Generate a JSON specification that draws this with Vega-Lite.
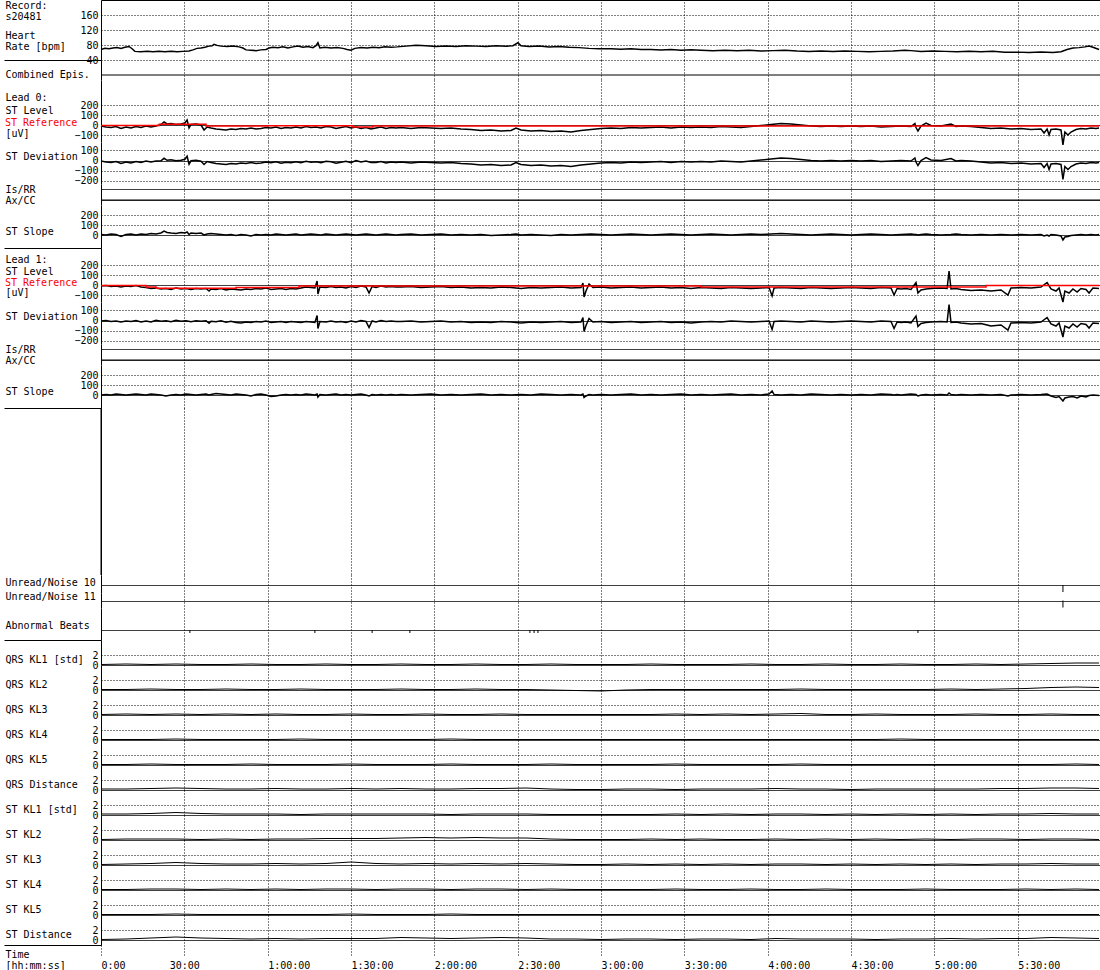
{
"$schema": "https://vega.github.io/schema/vega-lite/v6.json",
"autosize": {"type": "pad"},
"padding": {"left": 3, "top": 0, "right": 0, "bottom": 0},
"spacing": 0,
"bounds": "flush",
"config": {
  "view": {"stroke": null},
  "font": "DejaVu Sans Mono",
  "axis": {"labelFont": "DejaVu Sans Mono", "labelFontSize": 10, "labelColor": "black", "titleFont": "DejaVu Sans Mono", "titleFontSize": 10, "titleFontWeight": "normal", "titleColor": "black", "domainColor": "black", "gridColor": "black", "gridOpacity": 1, "tickColor": "black", "labelOverlap": false, "labelFlush": false, "labelBound": false, "titlePadding": 0},
  "axisY": {"titleAngle": 0, "titleAlign": "left", "titleBaseline": "top", "titleX": -96}
},
"datasets": {
  "hr": [
    {"t":0,"v":68},{"t":1.4,"v":71},{"t":2.9,"v":70},{"t":4.3,"v":72},{"t":5.8,"v":73},{"t":7.2,"v":71},{"t":8.6,"v":74},{"t":10.1,"v":76},{"t":11.2,"v":70},{"t":12.2,"v":63},{"t":14.4,"v":62},{"t":16.6,"v":63},{"t":18.7,"v":62},{"t":20.9,"v":63},{"t":23,"v":62},{"t":25.2,"v":63},{"t":27.4,"v":62},{"t":29.5,"v":63},{"t":31.7,"v":64},{"t":33.1,"v":67},{"t":34.6,"v":71},{"t":36,"v":72},{"t":37.4,"v":74},{"t":38.9,"v":77},{"t":40,"v":78},{"t":40.7,"v":82},{"t":41.8,"v":79},{"t":43.2,"v":77},{"t":45.4,"v":76},{"t":47.5,"v":77},{"t":49.7,"v":75},{"t":51.1,"v":72},{"t":52.2,"v":67},{"t":54,"v":66},{"t":55.8,"v":65},{"t":57.6,"v":67},{"t":59.4,"v":68},{"t":60.5,"v":72},{"t":61.9,"v":74},{"t":63.7,"v":73},{"t":65.5,"v":75},{"t":67.3,"v":72},{"t":69.1,"v":75},{"t":70.9,"v":77},{"t":72.7,"v":74},{"t":74.5,"v":76},{"t":76.3,"v":73},{"t":77.4,"v":78},{"t":78.1,"v":86},{"t":78.8,"v":72},{"t":80.6,"v":74},{"t":82.8,"v":72},{"t":85,"v":73},{"t":87.1,"v":71},{"t":88.6,"v":68},{"t":90,"v":66},{"t":91.4,"v":71},{"t":93.6,"v":73},{"t":95.8,"v":72},{"t":97.9,"v":74},{"t":100.1,"v":73},{"t":102.2,"v":75},{"t":104.4,"v":74},{"t":106.6,"v":75},{"t":109.8,"v":77},{"t":113.4,"v":79},{"t":117,"v":78},{"t":120.6,"v":76},{"t":124.2,"v":77},{"t":127.8,"v":76},{"t":131.4,"v":78},{"t":135,"v":77},{"t":138.6,"v":76},{"t":142.2,"v":78},{"t":145.8,"v":77},{"t":148.3,"v":78},{"t":150.1,"v":86},{"t":151.2,"v":78},{"t":154.1,"v":76},{"t":157.7,"v":77},{"t":161.3,"v":75},{"t":164.9,"v":76},{"t":168.5,"v":74},{"t":172.1,"v":73},{"t":175.7,"v":71},{"t":179.3,"v":70},{"t":183.6,"v":70},{"t":187.2,"v":69},{"t":190.8,"v":70},{"t":194.4,"v":68},{"t":198,"v":68},{"t":201.6,"v":67},{"t":205.2,"v":68},{"t":208.8,"v":66},{"t":212.4,"v":67},{"t":216,"v":66},{"t":220.3,"v":65},{"t":224.6,"v":66},{"t":229,"v":65},{"t":233.3,"v":66},{"t":237.6,"v":64},{"t":241.9,"v":65},{"t":246.2,"v":66},{"t":250.6,"v":64},{"t":254.9,"v":63},{"t":259.2,"v":64},{"t":263.5,"v":63},{"t":267.8,"v":64},{"t":272.2,"v":63},{"t":276.5,"v":62},{"t":280.8,"v":63},{"t":285.1,"v":64},{"t":289.4,"v":66},{"t":291.6,"v":65},{"t":295.2,"v":63},{"t":299.5,"v":64},{"t":303.8,"v":63},{"t":308.2,"v":62},{"t":312.5,"v":63},{"t":316.8,"v":62},{"t":321.1,"v":63},{"t":325.4,"v":61},{"t":329.8,"v":61},{"t":334.1,"v":60},{"t":338.4,"v":61},{"t":342.7,"v":60},{"t":345.6,"v":62},{"t":347.8,"v":68},{"t":349.9,"v":72},{"t":352.1,"v":73},{"t":354.2,"v":75},{"t":355.7,"v":77},{"t":357.1,"v":74},{"t":359.3,"v":68}
  ],
  "l0": [
    {"t":0,"lvl":-10,"dev":-5,"slp":5},{"t":1.8,"lvl":-20,"dev":-15,"slp":0},{"t":3.6,"lvl":-25,"dev":-20,"slp":10},{"t":5.4,"lvl":-15,"dev":-10,"slp":5},{"t":7.2,"lvl":-35,"dev":-30,"slp":-15},{"t":9,"lvl":-20,"dev":-15,"slp":5},{"t":10.8,"lvl":-30,"dev":-25,"slp":10},{"t":12.6,"lvl":-15,"dev":-10,"slp":0},{"t":14.4,"lvl":-25,"dev":-20,"slp":10},{"t":16.2,"lvl":-10,"dev":-5,"slp":5},{"t":18,"lvl":-20,"dev":-15,"slp":15},{"t":19.8,"lvl":-10,"dev":-5,"slp":10},{"t":21.6,"lvl":5,"dev":-3,"slp":20},{"t":22.7,"lvl":30,"dev":22,"slp":40},{"t":23.8,"lvl":10,"dev":2,"slp":25},{"t":25.2,"lvl":15,"dev":7,"slp":20},{"t":27,"lvl":5,"dev":-3,"slp":15},{"t":28.8,"lvl":10,"dev":2,"slp":25},{"t":30.2,"lvl":20,"dev":12,"slp":20},{"t":31,"lvl":50,"dev":42,"slp":30},{"t":31.7,"lvl":-30,"dev":-38,"slp":5},{"t":32.4,"lvl":5,"dev":-3,"slp":20},{"t":34.2,"lvl":10,"dev":2,"slp":15},{"t":36,"lvl":0,"dev":-8,"slp":20},{"t":37.1,"lvl":-50,"dev":-40,"slp":0},{"t":38.2,"lvl":-20,"dev":-10,"slp":10},{"t":39.6,"lvl":-30,"dev":-20,"slp":15},{"t":41.4,"lvl":-40,"dev":-30,"slp":10},{"t":43.2,"lvl":-45,"dev":-35,"slp":5},{"t":45,"lvl":-50,"dev":-40,"slp":0},{"t":46.8,"lvl":-40,"dev":-30,"slp":5},{"t":48.6,"lvl":-45,"dev":-35,"slp":-5},{"t":50.4,"lvl":-35,"dev":-25,"slp":5},{"t":52.2,"lvl":-40,"dev":-30,"slp":0},{"t":54,"lvl":-30,"dev":-20,"slp":-10},{"t":55.8,"lvl":-40,"dev":-30,"slp":5},{"t":57.6,"lvl":-35,"dev":-25,"slp":0},{"t":59.4,"lvl":-25,"dev":-15,"slp":5},{"t":61.2,"lvl":-30,"dev":-22,"slp":0},{"t":63,"lvl":-20,"dev":-12,"slp":10},{"t":64.8,"lvl":-35,"dev":-27,"slp":5},{"t":66.6,"lvl":-25,"dev":-17,"slp":0},{"t":68.4,"lvl":-30,"dev":-22,"slp":5},{"t":70.2,"lvl":-20,"dev":-12,"slp":10},{"t":72,"lvl":-30,"dev":-22,"slp":0},{"t":73.8,"lvl":-15,"dev":-7,"slp":5},{"t":75.6,"lvl":-25,"dev":-17,"slp":10},{"t":77.4,"lvl":-20,"dev":-12,"slp":5},{"t":79.2,"lvl":-30,"dev":-22,"slp":0},{"t":81,"lvl":-15,"dev":-7,"slp":10},{"t":82.8,"lvl":-20,"dev":-12,"slp":5},{"t":84.6,"lvl":-35,"dev":-27,"slp":0},{"t":86.4,"lvl":-25,"dev":-17,"slp":5},{"t":88.2,"lvl":-15,"dev":-7,"slp":10},{"t":90,"lvl":-30,"dev":-22,"slp":5},{"t":91.8,"lvl":-20,"dev":0,"slp":0},{"t":93.6,"lvl":-35,"dev":-15,"slp":5},{"t":95.4,"lvl":-25,"dev":-5,"slp":10},{"t":97.2,"lvl":-40,"dev":-20,"slp":5},{"t":99,"lvl":-30,"dev":-20,"slp":0},{"t":100.8,"lvl":-20,"dev":-10,"slp":5},{"t":102.6,"lvl":-35,"dev":-25,"slp":10},{"t":104.4,"lvl":-25,"dev":-15,"slp":5},{"t":106.2,"lvl":-30,"dev":-20,"slp":0},{"t":108,"lvl":-25,"dev":-15,"slp":5},{"t":111.6,"lvl":-35,"dev":-25,"slp":10},{"t":115.2,"lvl":-25,"dev":-15,"slp":0},{"t":118.8,"lvl":-30,"dev":-20,"slp":5},{"t":122.4,"lvl":-35,"dev":-25,"slp":10},{"t":126,"lvl":-30,"dev":-20,"slp":0},{"t":129.6,"lvl":-40,"dev":-30,"slp":5},{"t":133.2,"lvl":-45,"dev":-35,"slp":0},{"t":136.8,"lvl":-55,"dev":-45,"slp":5},{"t":140.4,"lvl":-50,"dev":-40,"slp":-5},{"t":144,"lvl":-60,"dev":-50,"slp":0},{"t":147.6,"lvl":-55,"dev":-45,"slp":5},{"t":149.4,"lvl":-30,"dev":-20,"slp":10},{"t":151.2,"lvl":-50,"dev":-40,"slp":0},{"t":154.8,"lvl":-60,"dev":-50,"slp":5},{"t":158.4,"lvl":-55,"dev":-45,"slp":0},{"t":162,"lvl":-65,"dev":-55,"slp":-5},{"t":165.6,"lvl":-60,"dev":-50,"slp":5},{"t":169.2,"lvl":-70,"dev":-60,"slp":0},{"t":172.8,"lvl":-55,"dev":-45,"slp":5},{"t":176.4,"lvl":-45,"dev":-35,"slp":10},{"t":180,"lvl":-35,"dev":-25,"slp":5},{"t":183.6,"lvl":-30,"dev":-20,"slp":0},{"t":187.2,"lvl":-35,"dev":-25,"slp":5},{"t":190.8,"lvl":-25,"dev":-15,"slp":10},{"t":194.4,"lvl":-30,"dev":-20,"slp":5},{"t":198,"lvl":-25,"dev":-15,"slp":0},{"t":201.6,"lvl":-20,"dev":-10,"slp":5},{"t":205.2,"lvl":-30,"dev":-20,"slp":10},{"t":208.8,"lvl":-20,"dev":-10,"slp":5},{"t":212.4,"lvl":-25,"dev":-15,"slp":0},{"t":216,"lvl":-20,"dev":-10,"slp":5},{"t":219.6,"lvl":-25,"dev":-15,"slp":10},{"t":223.2,"lvl":-15,"dev":-5,"slp":5},{"t":226.8,"lvl":-20,"dev":-10,"slp":0},{"t":230.4,"lvl":-25,"dev":-15,"slp":5},{"t":234,"lvl":-15,"dev":-5,"slp":10},{"t":237.6,"lvl":-5,"dev":5,"slp":5},{"t":241.2,"lvl":5,"dev":15,"slp":10},{"t":244.8,"lvl":15,"dev":25,"slp":15},{"t":248.4,"lvl":10,"dev":20,"slp":10},{"t":252,"lvl":0,"dev":10,"slp":5},{"t":255.6,"lvl":-10,"dev":0,"slp":0},{"t":259.2,"lvl":-15,"dev":-5,"slp":5},{"t":262.8,"lvl":-10,"dev":0,"slp":10},{"t":266.4,"lvl":-15,"dev":-5,"slp":5},{"t":270,"lvl":-10,"dev":0,"slp":0},{"t":273.6,"lvl":-15,"dev":-5,"slp":5},{"t":277.2,"lvl":-10,"dev":0,"slp":10},{"t":280.8,"lvl":-20,"dev":-10,"slp":5},{"t":284.4,"lvl":-15,"dev":-5,"slp":0},{"t":288,"lvl":-10,"dev":0,"slp":5},{"t":291.6,"lvl":-15,"dev":-5,"slp":10},{"t":293,"lvl":15,"dev":25,"slp":5},{"t":293.4,"lvl":-25,"dev":-15,"slp":5},{"t":294.1,"lvl":-60,"dev":-50,"slp":0},{"t":295.2,"lvl":-10,"dev":0,"slp":5},{"t":297,"lvl":20,"dev":30,"slp":10},{"t":298.8,"lvl":-5,"dev":5,"slp":5},{"t":302.4,"lvl":-10,"dev":0,"slp":0},{"t":306,"lvl":10,"dev":20,"slp":5},{"t":307.8,"lvl":-15,"dev":-5,"slp":10},{"t":309.6,"lvl":-10,"dev":0,"slp":5},{"t":313.2,"lvl":-15,"dev":-5,"slp":0},{"t":316.8,"lvl":-25,"dev":-15,"slp":5},{"t":320.4,"lvl":-35,"dev":-25,"slp":0},{"t":324,"lvl":-30,"dev":-20,"slp":5},{"t":327.6,"lvl":-40,"dev":-30,"slp":0},{"t":331.2,"lvl":-35,"dev":-25,"slp":5},{"t":334.8,"lvl":-45,"dev":-35,"slp":0},{"t":338.4,"lvl":-40,"dev":-30,"slp":5},{"t":339.5,"lvl":-80,"dev":-70,"slp":-10},{"t":340.6,"lvl":-40,"dev":-30,"slp":0},{"t":341.3,"lvl":-100,"dev":-90,"slp":-10},{"t":342,"lvl":-45,"dev":-35,"slp":5},{"t":343.8,"lvl":-40,"dev":-30,"slp":0},{"t":345.6,"lvl":-50,"dev":-40,"slp":-10},{"t":346.3,"lvl":-200,"dev":-190,"slp":-50},{"t":347,"lvl":-70,"dev":-60,"slp":-20},{"t":348.1,"lvl":-100,"dev":-90,"slp":-15},{"t":349.2,"lvl":-70,"dev":-60,"slp":-5},{"t":351,"lvl":-45,"dev":-35,"slp":0},{"t":352.8,"lvl":-35,"dev":-25,"slp":5},{"t":354.6,"lvl":-40,"dev":-30,"slp":0},{"t":356.4,"lvl":-30,"dev":-20,"slp":5},{"t":358.2,"lvl":-35,"dev":-25,"slp":0},{"t":359.3,"lvl":-30,"dev":-20,"slp":5}
  ],
  "l0ref": [
    {"t":0,"lvl":-5},{"t":21,"lvl":8},{"t":37.8,"lvl":-10},{"t":60.1,"lvl":-8},{"t":90.7,"lvl":-20},{"t":97.9,"lvl":-10},{"t":359.3,"lvl":-10}
  ],
  "l1": [
    {"t":0,"lvl":-10,"dev":-5,"slp":0},{"t":1.8,"lvl":-5,"dev":0,"slp":5},{"t":3.6,"lvl":-15,"dev":-10,"slp":0},{"t":5.4,"lvl":-10,"dev":-5,"slp":10},{"t":7.2,"lvl":-20,"dev":-15,"slp":5},{"t":9,"lvl":-10,"dev":-5,"slp":0},{"t":10.8,"lvl":-15,"dev":-10,"slp":5},{"t":12.6,"lvl":-5,"dev":0,"slp":10},{"t":14.4,"lvl":-20,"dev":-15,"slp":5},{"t":16.2,"lvl":-25,"dev":-5,"slp":0},{"t":18,"lvl":-35,"dev":-15,"slp":10},{"t":19.8,"lvl":-30,"dev":3,"slp":5},{"t":21.6,"lvl":-40,"dev":-7,"slp":0},{"t":23.4,"lvl":-35,"dev":-2,"slp":-10},{"t":25.2,"lvl":-45,"dev":-12,"slp":0},{"t":27,"lvl":-30,"dev":3,"slp":5},{"t":28.8,"lvl":-40,"dev":-7,"slp":0},{"t":30.6,"lvl":-35,"dev":-2,"slp":10},{"t":32.4,"lvl":-45,"dev":-12,"slp":5},{"t":34.2,"lvl":-35,"dev":-2,"slp":0},{"t":36,"lvl":-40,"dev":-7,"slp":5},{"t":37.8,"lvl":-35,"dev":-2,"slp":10},{"t":38.9,"lvl":-60,"dev":-27,"slp":0},{"t":39.6,"lvl":-40,"dev":-7,"slp":5},{"t":41.4,"lvl":-45,"dev":-12,"slp":15},{"t":43.2,"lvl":-35,"dev":-2,"slp":10},{"t":45,"lvl":-50,"dev":-17,"slp":5},{"t":46.8,"lvl":-40,"dev":-7,"slp":0},{"t":48.6,"lvl":-45,"dev":-20,"slp":10},{"t":50.4,"lvl":-50,"dev":-25,"slp":5},{"t":52.2,"lvl":-40,"dev":-15,"slp":0},{"t":54,"lvl":-45,"dev":-20,"slp":-10},{"t":55.8,"lvl":-35,"dev":-10,"slp":5},{"t":57.6,"lvl":-40,"dev":-15,"slp":10},{"t":59.4,"lvl":-30,"dev":-5,"slp":0},{"t":61.2,"lvl":-45,"dev":-20,"slp":-15},{"t":63,"lvl":-40,"dev":-15,"slp":-10},{"t":64.8,"lvl":-35,"dev":-10,"slp":0},{"t":66.6,"lvl":-45,"dev":-20,"slp":5},{"t":68.4,"lvl":-35,"dev":-10,"slp":0},{"t":70.2,"lvl":-40,"dev":-15,"slp":5},{"t":72,"lvl":-30,"dev":-20,"slp":0},{"t":73.8,"lvl":-20,"dev":-10,"slp":10},{"t":75.6,"lvl":-25,"dev":-15,"slp":5},{"t":77,"lvl":-30,"dev":-20,"slp":0},{"t":77.8,"lvl":40,"dev":50,"slp":10},{"t":78.1,"lvl":-90,"dev":-80,"slp":-20},{"t":78.8,"lvl":-20,"dev":-10,"slp":5},{"t":81,"lvl":-25,"dev":-15,"slp":0},{"t":82.8,"lvl":-15,"dev":-5,"slp":5},{"t":84.6,"lvl":-25,"dev":-15,"slp":10},{"t":86.4,"lvl":-20,"dev":-10,"slp":0},{"t":88.2,"lvl":-30,"dev":-20,"slp":5},{"t":90,"lvl":-15,"dev":-5,"slp":0},{"t":91.8,"lvl":-25,"dev":-15,"slp":5},{"t":93.6,"lvl":-10,"dev":0,"slp":10},{"t":95.4,"lvl":-20,"dev":-10,"slp":0},{"t":96.5,"lvl":-80,"dev":-70,"slp":-10},{"t":97.6,"lvl":-15,"dev":-5,"slp":5},{"t":99,"lvl":-25,"dev":-15,"slp":0},{"t":100.8,"lvl":-10,"dev":0,"slp":5},{"t":102.6,"lvl":-20,"dev":-10,"slp":0},{"t":104.4,"lvl":-15,"dev":-5,"slp":5},{"t":106.2,"lvl":-20,"dev":-10,"slp":0},{"t":108,"lvl":-20,"dev":-10,"slp":5},{"t":111.6,"lvl":-15,"dev":-5,"slp":0},{"t":115.2,"lvl":-25,"dev":-15,"slp":5},{"t":118.8,"lvl":-20,"dev":-10,"slp":10},{"t":122.4,"lvl":-15,"dev":-5,"slp":0},{"t":126,"lvl":-25,"dev":-15,"slp":5},{"t":129.6,"lvl":-20,"dev":-10,"slp":0},{"t":133.2,"lvl":-30,"dev":-20,"slp":5},{"t":136.8,"lvl":-25,"dev":-15,"slp":10},{"t":140.4,"lvl":-30,"dev":-20,"slp":0},{"t":144,"lvl":-20,"dev":-10,"slp":5},{"t":147.6,"lvl":-25,"dev":-15,"slp":0},{"t":151.2,"lvl":-35,"dev":-25,"slp":5},{"t":154.8,"lvl":-25,"dev":-15,"slp":0},{"t":158.4,"lvl":-30,"dev":-20,"slp":10},{"t":162,"lvl":-25,"dev":-15,"slp":5},{"t":165.6,"lvl":-20,"dev":-10,"slp":0},{"t":169.2,"lvl":-30,"dev":-20,"slp":5},{"t":172.8,"lvl":-25,"dev":-15,"slp":0},{"t":173.5,"lvl":20,"dev":30,"slp":10},{"t":173.9,"lvl":-120,"dev":-110,"slp":-25},{"t":174.6,"lvl":-60,"dev":-50,"slp":-10},{"t":175.7,"lvl":10,"dev":20,"slp":5},{"t":177.1,"lvl":-25,"dev":-15,"slp":0},{"t":180,"lvl":-20,"dev":-10,"slp":5},{"t":183.6,"lvl":-30,"dev":-20,"slp":0},{"t":187.2,"lvl":-25,"dev":-15,"slp":5},{"t":190.8,"lvl":-20,"dev":-10,"slp":10},{"t":194.4,"lvl":-30,"dev":-20,"slp":0},{"t":198,"lvl":-25,"dev":-15,"slp":5},{"t":201.6,"lvl":-20,"dev":-10,"slp":0},{"t":205.2,"lvl":-30,"dev":-20,"slp":5},{"t":208.8,"lvl":-25,"dev":-15,"slp":10},{"t":212.4,"lvl":-35,"dev":-25,"slp":0},{"t":216,"lvl":-25,"dev":-15,"slp":5},{"t":219.6,"lvl":-30,"dev":-10,"slp":0},{"t":223.2,"lvl":-35,"dev":-15,"slp":5},{"t":226.8,"lvl":-25,"dev":-5,"slp":10},{"t":230.4,"lvl":-30,"dev":-10,"slp":0},{"t":234,"lvl":-35,"dev":-15,"slp":5},{"t":237.6,"lvl":-30,"dev":-10,"slp":0},{"t":240.5,"lvl":-25,"dev":-5,"slp":10},{"t":241.6,"lvl":-110,"dev":-90,"slp":40},{"t":242.3,"lvl":-30,"dev":-10,"slp":5},{"t":244.8,"lvl":-25,"dev":-5,"slp":0},{"t":248.4,"lvl":-30,"dev":-10,"slp":5},{"t":252,"lvl":-35,"dev":-15,"slp":0},{"t":255.6,"lvl":-25,"dev":-5,"slp":10},{"t":259.2,"lvl":-30,"dev":-10,"slp":5},{"t":262.8,"lvl":-35,"dev":-15,"slp":0},{"t":266.4,"lvl":-30,"dev":-10,"slp":5},{"t":270,"lvl":-25,"dev":-5,"slp":0},{"t":273.6,"lvl":-30,"dev":-10,"slp":5},{"t":277.2,"lvl":-35,"dev":-15,"slp":0},{"t":280.8,"lvl":-25,"dev":-5,"slp":10},{"t":284.4,"lvl":-30,"dev":-10,"slp":5},{"t":285.5,"lvl":-100,"dev":-80,"slp":0},{"t":286.6,"lvl":-35,"dev":-15,"slp":5},{"t":288,"lvl":-40,"dev":-20,"slp":0},{"t":289.8,"lvl":-35,"dev":-15,"slp":5},{"t":291.6,"lvl":-45,"dev":-25,"slp":10},{"t":293.4,"lvl":25,"dev":45,"slp":5},{"t":294.1,"lvl":-80,"dev":-60,"slp":-10},{"t":295.2,"lvl":-50,"dev":-30,"slp":0},{"t":297,"lvl":-40,"dev":-20,"slp":5},{"t":298.8,"lvl":-35,"dev":-15,"slp":0},{"t":302.4,"lvl":-30,"dev":-10,"slp":5},{"t":304.6,"lvl":-35,"dev":-15,"slp":0},{"t":305.3,"lvl":140,"dev":160,"slp":20},{"t":306,"lvl":-40,"dev":-20,"slp":5},{"t":307.8,"lvl":-35,"dev":-15,"slp":0},{"t":309.6,"lvl":-45,"dev":-25,"slp":5},{"t":313.2,"lvl":-55,"dev":-35,"slp":0},{"t":316.8,"lvl":-50,"dev":-30,"slp":5},{"t":320.4,"lvl":-60,"dev":-55,"slp":0},{"t":324,"lvl":-50,"dev":-45,"slp":5},{"t":326.5,"lvl":-100,"dev":-95,"slp":-10},{"t":327.6,"lvl":-30,"dev":-25,"slp":0},{"t":331.2,"lvl":-25,"dev":-20,"slp":5},{"t":334.8,"lvl":-30,"dev":-25,"slp":0},{"t":338.4,"lvl":-20,"dev":-15,"slp":5},{"t":340.6,"lvl":25,"dev":30,"slp":10},{"t":342,"lvl":-40,"dev":-35,"slp":-10},{"t":343.8,"lvl":-60,"dev":-55,"slp":-25},{"t":344.9,"lvl":-30,"dev":-25,"slp":-15},{"t":346.3,"lvl":-170,"dev":-165,"slp":-60},{"t":347,"lvl":-60,"dev":-55,"slp":-30},{"t":348.5,"lvl":-80,"dev":-75,"slp":-20},{"t":349.9,"lvl":-40,"dev":-35,"slp":-15},{"t":351.4,"lvl":-70,"dev":-65,"slp":-30},{"t":352.8,"lvl":-35,"dev":-30,"slp":-10},{"t":354.6,"lvl":-45,"dev":-40,"slp":-20},{"t":355.7,"lvl":-80,"dev":-75,"slp":-5},{"t":357.1,"lvl":-30,"dev":-25,"slp":0},{"t":359.3,"lvl":-35,"dev":-30,"slp":-5}
  ],
  "l1ref": [
    {"t":0,"lvl":-5},{"t":16.2,"lvl":-20},{"t":19.8,"lvl":-33},{"t":48.6,"lvl":-25},{"t":71.3,"lvl":-10},{"t":216,"lvl":-20},{"t":318.6,"lvl":-5},{"t":359.3,"lvl":-5}
  ],
  "noise10": [{"t":346.3}],
  "noise11": [{"t":346.3}],
  "abn": [{"t":32},{"t":77},{"t":97.6},{"t":111.2},{"t":154.4},{"t":155.9},{"t":157.3},{"t":294.1}],
  "kl": [
    {"t":0,"q1":0.1,"q2":0.1,"q3":0.1,"q4":0.1,"q5":0.1,"qd":0.2,"s1":0.2,"s2":0.1,"s3":0.1,"s4":0.1,"s5":0.1,"sd":0.1},
    {"t":9,"q1":0.2,"q2":0.1,"q3":0.2,"q4":0.1,"q5":0.1,"qd":0.2,"s1":0.2,"s2":0.2,"s3":0.2,"s4":0.1,"s5":0.1,"sd":0.2},
    {"t":18,"q1":0.1,"q2":0.2,"q3":0.1,"q4":0.1,"q5":0.2,"qd":0.3,"s1":0.3,"s2":0.2,"s3":0.3,"s4":0.2,"s5":0.1,"sd":0.4},
    {"t":27,"q1":0.2,"q2":0.1,"q3":0.2,"q4":0.2,"q5":0.1,"qd":0.4,"s1":0.5,"s2":0.2,"s3":0.5,"s4":0.2,"s5":0.2,"sd":0.6},
    {"t":36,"q1":0.1,"q2":0.1,"q3":0.1,"q4":0.1,"q5":0.1,"qd":0.3,"s1":0.3,"s2":0.1,"s3":0.3,"s4":0.1,"s5":0.1,"sd":0.4},
    {"t":45,"q1":0.1,"q2":0.2,"q3":0.2,"q4":0.1,"q5":0.1,"qd":0.2,"s1":0.2,"s2":0.2,"s3":0.2,"s4":0.2,"s5":0.1,"sd":0.3},
    {"t":54,"q1":0.2,"q2":0.1,"q3":0.1,"q4":0.1,"q5":0.2,"qd":0.2,"s1":0.2,"s2":0.1,"s3":0.2,"s4":0.1,"s5":0.1,"sd":0.2},
    {"t":63,"q1":0.1,"q2":0.1,"q3":0.2,"q4":0.1,"q5":0.1,"qd":0.3,"s1":0.2,"s2":0.2,"s3":0.3,"s4":0.2,"s5":0.1,"sd":0.3},
    {"t":72,"q1":0.1,"q2":0.2,"q3":0.1,"q4":0.2,"q5":0.1,"qd":0.2,"s1":0.1,"s2":0.2,"s3":0.2,"s4":0.1,"s5":0.1,"sd":0.2},
    {"t":81,"q1":0.2,"q2":0.1,"q3":0.1,"q4":0.1,"q5":0.1,"qd":0.2,"s1":0.2,"s2":0.3,"s3":0.3,"s4":0.2,"s5":0.1,"sd":0.3},
    {"t":90,"q1":0.1,"q2":0.1,"q3":0.2,"q4":0.1,"q5":0.2,"qd":0.3,"s1":0.2,"s2":0.3,"s3":0.6,"s4":0.2,"s5":0.2,"sd":0.3},
    {"t":99,"q1":0.1,"q2":0.1,"q3":0.1,"q4":0.1,"q5":0.1,"qd":0.2,"s1":0.2,"s2":0.3,"s3":0.3,"s4":0.1,"s5":0.1,"sd":0.3},
    {"t":108,"q1":0.2,"q2":0.2,"q3":0.1,"q4":0.1,"q5":0.1,"qd":0.3,"s1":0.2,"s2":0.4,"s3":0.2,"s4":0.2,"s5":0.1,"sd":0.5},
    {"t":117,"q1":0.1,"q2":0.1,"q3":0.2,"q4":0.1,"q5":0.1,"qd":0.2,"s1":0.2,"s2":0.5,"s3":0.3,"s4":0.2,"s5":0.1,"sd":0.4},
    {"t":126,"q1":0.1,"q2":0.1,"q3":0.1,"q4":0.2,"q5":0.2,"qd":0.2,"s1":0.1,"s2":0.4,"s3":0.2,"s4":0.1,"s5":0.2,"sd":0.3},
    {"t":135,"q1":0.2,"q2":0.2,"q3":0.1,"q4":0.1,"q5":0.1,"qd":0.3,"s1":0.2,"s2":0.5,"s3":0.3,"s4":0.2,"s5":0.1,"sd":0.4},
    {"t":144,"q1":0.1,"q2":0.1,"q3":0.2,"q4":0.1,"q5":0.1,"qd":0.3,"s1":0.2,"s2":0.4,"s3":0.2,"s4":0.2,"s5":0.1,"sd":0.5},
    {"t":153,"q1":0.1,"q2":0.1,"q3":0.1,"q4":0.1,"q5":0.1,"qd":0.4,"s1":0.2,"s2":0.4,"s3":0.3,"s4":0.1,"s5":0.1,"sd":0.4},
    {"t":162,"q1":0.2,"q2":0.0,"q3":0.1,"q4":0.1,"q5":0.2,"qd":0.2,"s1":0.1,"s2":0.2,"s3":0.2,"s4":0.2,"s5":0.1,"sd":0.2},
    {"t":171,"q1":0.1,"q2":-0.1,"q3":0.1,"q4":0.1,"q5":0.1,"qd":0.1,"s1":0.1,"s2":0.1,"s3":0.1,"s4":0.1,"s5":0.1,"sd":0.2},
    {"t":180,"q1":0.1,"q2":-0.2,"q3":0.1,"q4":0.1,"q5":0.1,"qd":0.1,"s1":0.1,"s2":0.1,"s3":0.1,"s4":0.1,"s5":0.1,"sd":0.1},
    {"t":189,"q1":0.1,"q2":0.0,"q3":0.1,"q4":0.1,"q5":0.1,"qd":0.2,"s1":0.1,"s2":0.1,"s3":0.2,"s4":0.1,"s5":0.1,"sd":0.2},
    {"t":198,"q1":0.2,"q2":0.1,"q3":0.1,"q4":0.1,"q5":0.1,"qd":0.2,"s1":0.1,"s2":0.2,"s3":0.1,"s4":0.1,"s5":0.1,"sd":0.2},
    {"t":207,"q1":0.1,"q2":0.1,"q3":0.2,"q4":0.1,"q5":0.2,"qd":0.1,"s1":0.2,"s2":0.1,"s3":0.2,"s4":0.2,"s5":0.1,"sd":0.1},
    {"t":216,"q1":0.1,"q2":0.1,"q3":0.1,"q4":0.1,"q5":0.1,"qd":0.2,"s1":0.1,"s2":0.2,"s3":0.1,"s4":0.1,"s5":0.1,"sd":0.2},
    {"t":225,"q1":0.1,"q2":0.1,"q3":0.2,"q4":0.1,"q5":0.1,"qd":0.2,"s1":0.2,"s2":0.1,"s3":0.2,"s4":0.1,"s5":0.1,"sd":0.2},
    {"t":234,"q1":0.2,"q2":0.1,"q3":0.1,"q4":0.1,"q5":0.1,"qd":0.2,"s1":0.1,"s2":0.1,"s3":0.1,"s4":0.2,"s5":0.1,"sd":0.1},
    {"t":243,"q1":0.1,"q2":0.1,"q3":0.2,"q4":0.1,"q5":0.1,"qd":0.3,"s1":0.2,"s2":0.2,"s3":0.2,"s4":0.1,"s5":0.1,"sd":0.3},
    {"t":252,"q1":0.1,"q2":0.2,"q3":0.3,"q4":0.1,"q5":0.2,"qd":0.2,"s1":0.2,"s2":0.1,"s3":0.2,"s4":0.1,"s5":0.1,"sd":0.2},
    {"t":261,"q1":0.2,"q2":0.1,"q3":0.1,"q4":0.1,"q5":0.1,"qd":0.2,"s1":0.1,"s2":0.2,"s3":0.1,"s4":0.2,"s5":0.1,"sd":0.2},
    {"t":270,"q1":0.1,"q2":0.1,"q3":0.1,"q4":0.1,"q5":0.1,"qd":0.1,"s1":0.2,"s2":0.1,"s3":0.2,"s4":0.1,"s5":0.1,"sd":0.2},
    {"t":279,"q1":0.1,"q2":0.1,"q3":0.2,"q4":0.1,"q5":0.1,"qd":0.2,"s1":0.1,"s2":0.2,"s3":0.1,"s4":0.1,"s5":0.1,"sd":0.1},
    {"t":288,"q1":0.2,"q2":0.1,"q3":0.1,"q4":0.2,"q5":0.1,"qd":0.2,"s1":0.2,"s2":0.1,"s3":0.2,"s4":0.1,"s5":0.1,"sd":0.2},
    {"t":297,"q1":0.1,"q2":0.1,"q3":0.1,"q4":0.1,"q5":0.1,"qd":0.2,"s1":0.1,"s2":0.2,"s3":0.1,"s4":0.2,"s5":0.1,"sd":0.2},
    {"t":306,"q1":0.1,"q2":0.2,"q3":0.1,"q4":0.1,"q5":0.1,"qd":0.2,"s1":0.2,"s2":0.1,"s3":0.2,"s4":0.1,"s5":0.1,"sd":0.3},
    {"t":315,"q1":0.2,"q2":0.1,"q3":0.2,"q4":0.1,"q5":0.1,"qd":0.2,"s1":0.1,"s2":0.2,"s3":0.1,"s4":0.1,"s5":0.1,"sd":0.2},
    {"t":324,"q1":0.1,"q2":0.2,"q3":0.1,"q4":0.1,"q5":0.1,"qd":0.3,"s1":0.2,"s2":0.2,"s3":0.2,"s4":0.1,"s5":0.1,"sd":0.3},
    {"t":333,"q1":0.2,"q2":0.3,"q3":0.1,"q4":0.1,"q5":0.1,"qd":0.3,"s1":0.2,"s2":0.1,"s3":0.2,"s4":0.2,"s5":0.1,"sd":0.3},
    {"t":342,"q1":0.3,"q2":0.5,"q3":0.2,"q4":0.1,"q5":0.1,"qd":0.4,"s1":0.3,"s2":0.2,"s3":0.3,"s4":0.1,"s5":0.1,"sd":0.5},
    {"t":351,"q1":0.4,"q2":0.6,"q3":0.1,"q4":0.1,"q5":0.2,"qd":0.4,"s1":0.2,"s2":0.2,"s3":0.2,"s4":0.2,"s5":0.1,"sd":0.4},
    {"t":359.3,"q1":0.4,"q2":0.5,"q3":0.1,"q4":0.1,"q5":0.1,"qd":0.3,"s1":0.2,"s2":0.1,"s3":0.2,"s4":0.1,"s5":0.1,"sd":0.3}
  ]
},
"vconcat": [
  {
    "width": 1000, "height": 60,
    "data": {"name": "hr"},
    "mark": {"type": "line", "color": "black", "strokeWidth": 1.5},
    "encoding": {
      "x": {"field": "t", "type": "quantitative", "scale": {"domain": [0, 360], "nice": false, "zero": false},
            "axis": {"orient": "top", "values": [30,60,90,120,150,180,210,240,270,300,330], "grid": true, "gridDash": [1,2], "domain": true, "ticks": false, "labels": false,
                     "title": ["Record:", "s20481"], "titleAngle": 0, "titleAlign": "left", "titleBaseline": "top", "titleX": -96, "titleY": 0.7, "titleLineHeight": 11}},
      "y": {"field": "v", "type": "quantitative", "scale": {"domain": [40, 200], "nice": false, "zero": false},
            "axis": {"values": [40,80,120,160], "grid": true, "gridDash": [1,2], "ticks": true, "tickSize": 97,
                     "tickColor": {"condition": {"test": "datum.value === 40", "value": "black"}, "value": "transparent"},
                     "labelPadding": -94, "domain": true,
                     "title": ["Heart", "Rate [bpm]"], "titleLineHeight": 10.5, "titleY": 30.7}}
    }
  },
  {
    "width": 1000, "height": 20,
    "data": {"values": [{}]},
    "mark": {"type": "rule", "color": "black"},
    "encoding": {
      "x": {"datum": 0, "type": "quantitative", "scale": {"domain": [0, 360], "nice": false, "zero": false},
            "axis": {"orient": "bottom", "values": [30,60,90,120,150,180,210,240,270,300,330], "grid": true, "gridDash": [1,2], "domain": false, "ticks": false, "labels": false, "title": null}},
      "x2": {"datum": 360},
      "y": {"datum": 5, "type": "quantitative", "scale": {"domain": [0, 20], "nice": false, "zero": false},
            "axis": {"values": [5], "grid": false, "ticks": false, "labels": false, "domain": true, "title": "Combined Epis.", "titleY": 9.7}}
    }
  },
  {
    "width": 1000, "height": 62,
    "title": {"text": "ST Reference", "color": "#ff0000", "anchor": "start", "frame": "group", "orient": "top", "offset": 0, "baseline": "middle", "align": "left", "dx": -96, "dy": 53, "font": "DejaVu Sans Mono", "fontSize": 10, "fontWeight": "normal"},
    "encoding": {
      "x": {"field": "t", "type": "quantitative", "scale": {"domain": [0, 360], "nice": false, "zero": false},
            "axis": {"orient": "bottom", "values": [30,60,90,120,150,180,210,240,270,300,330], "grid": true, "gridDash": [1,2], "domain": false, "ticks": false, "labels": false,
                     "title": "[uV]", "titleAngle": 0, "titleAlign": "left", "titleBaseline": "top", "titleX": -96, "titleY": -13.6}},
      "y": {"field": "lvl", "type": "quantitative", "scale": {"domain": [-170, 450], "nice": false, "zero": false},
            "axis": {"values": [-100,0,100,200], "grid": true, "gridDash": {"condition": {"test": "datum.value === 0", "value": [1,0]}, "value": [1,2]},
                     "ticks": false, "labelPadding": 3, "domain": true,
                     "title": ["Lead 0:", "ST Level"], "titleLineHeight": 13, "titleY": 12.7}}
    },
    "layer": [
      {"data": {"name": "l0"}, "mark": {"type": "line", "color": "black", "strokeWidth": 1.5}},
      {"data": {"name": "l0ref"}, "mark": {"type": "line", "color": "#ff0000", "strokeWidth": 1.5, "interpolate": "step-after"}}
    ]
  },
  {
    "width": 1000, "height": 42,
    "data": {"name": "l0"},
    "mark": {"type": "line", "color": "black", "strokeWidth": 1.5},
    "encoding": {
      "x": {"field": "t", "type": "quantitative", "scale": {"domain": [0, 360], "nice": false, "zero": false},
            "axis": {"orient": "bottom", "values": [30,60,90,120,150,180,210,240,270,300,330], "grid": true, "gridDash": [1,2], "domain": false, "ticks": false, "labels": false, "title": null}},
      "y": {"field": "dev", "type": "quantitative", "scale": {"domain": [-235, 185], "nice": false, "zero": false},
            "axis": {"values": [-200,-100,0,100], "grid": true, "gridDash": {"condition": {"test": "datum.value === 0", "value": [1,0]}, "value": [1,2]},
                     "ticks": false, "labelPadding": 3, "domain": true, "title": "ST Deviation", "titleY": 9.4}}
    }
  },
  {
    "width": 1000, "height": 21,
    "data": {"values": [{}]},
    "mark": {"type": "rule", "color": "black"},
    "encoding": {
      "x": {"datum": 0, "type": "quantitative", "scale": {"domain": [0, 360], "nice": false, "zero": false},
            "axis": {"orient": "bottom", "values": [30,60,90,120,150,180,210,240,270,300,330], "grid": true, "gridDash": [1,2], "domain": false, "ticks": false, "labels": false, "title": null}},
      "x2": {"datum": 360},
      "y": {"datum": 5, "type": "quantitative", "scale": {"domain": [0, 21], "nice": false, "zero": false},
            "axis": {"values": [5, 15.5], "grid": true, "gridDash": [1,0], "ticks": false, "labels": false, "domain": true,
                     "title": ["Is/RR", "Ax/CC"], "titleLineHeight": 10.5, "titleY": 0.7}}
    }
  },
  {
    "width": 1000, "height": 43,
    "data": {"name": "l0"},
    "mark": {"type": "line", "color": "black", "strokeWidth": 1.5},
    "encoding": {
      "x": {"field": "t", "type": "quantitative", "scale": {"domain": [0, 360], "nice": false, "zero": false},
            "axis": {"orient": "bottom", "values": [30,60,90,120,150,180,210,240,270,300,330], "grid": true, "gridDash": [1,2], "domain": false, "ticks": false, "labels": false, "title": null}},
      "y": {"field": "slp", "type": "quantitative", "scale": {"domain": [-130, 300], "nice": false, "zero": false},
            "axis": {"values": [-130,0,100,200], "labelExpr": "datum.value === -130 ? '' : datum.label",
                     "grid": true, "gridDash": {"condition": {"test": "datum.value === 0", "value": [1,0]}, "value": [1,2]},
                     "gridOpacity": {"condition": {"test": "datum.value === -130", "value": 0}, "value": 1},
                     "ticks": true, "tickSize": 97, "tickColor": {"condition": {"test": "datum.value === -130", "value": "black"}, "value": "transparent"},
                     "labelPadding": -94, "domain": true, "title": "ST Slope", "titleY": 21.3}}
    }
  },
  {
    "width": 1000, "height": 54,
    "title": {"text": "ST Reference", "color": "#ff0000", "anchor": "start", "frame": "group", "orient": "top", "offset": 0, "baseline": "middle", "align": "left", "dx": -96, "dy": 44.7, "font": "DejaVu Sans Mono", "fontSize": 10, "fontWeight": "normal"},
    "encoding": {
      "x": {"field": "t", "type": "quantitative", "scale": {"domain": [0, 360], "nice": false, "zero": false},
            "axis": {"orient": "bottom", "values": [30,60,90,120,150,180,210,240,270,300,330], "grid": true, "gridDash": [1,2], "domain": false, "ticks": false, "labels": false,
                     "title": "[uV]", "titleAngle": 0, "titleAlign": "left", "titleBaseline": "top", "titleX": -96, "titleY": -14.6}},
      "y": {"field": "lvl", "type": "quantitative", "scale": {"domain": [-170, 370], "nice": false, "zero": false},
            "axis": {"values": [-100,0,100,200], "grid": true, "gridDash": {"condition": {"test": "datum.value === 0", "value": [1,0]}, "value": [1,2]},
                     "ticks": false, "labelPadding": 3, "domain": true,
                     "title": ["Lead 1:", "ST Level"], "titleLineHeight": 12.5, "titleY": 6}}
    },
    "layer": [
      {"data": {"name": "l1"}, "mark": {"type": "line", "color": "black", "strokeWidth": 1.5}},
      {"data": {"name": "l1ref"}, "mark": {"type": "line", "color": "#ff0000", "strokeWidth": 1.5, "interpolate": "step-after"}}
    ]
  },
  {
    "width": 1000, "height": 42,
    "data": {"name": "l1"},
    "mark": {"type": "line", "color": "black", "strokeWidth": 1.5},
    "encoding": {
      "x": {"field": "t", "type": "quantitative", "scale": {"domain": [0, 360], "nice": false, "zero": false},
            "axis": {"orient": "bottom", "values": [30,60,90,120,150,180,210,240,270,300,330], "grid": true, "gridDash": [1,2], "domain": false, "ticks": false, "labels": false, "title": null}},
      "y": {"field": "dev", "type": "quantitative", "scale": {"domain": [-235, 185], "nice": false, "zero": false},
            "axis": {"values": [-200,-100,0,100], "grid": true, "gridDash": {"condition": {"test": "datum.value === 0", "value": [1,0]}, "value": [1,2]},
                     "ticks": false, "labelPadding": 3, "domain": true, "title": "ST Deviation", "titleY": 9.4}}
    }
  },
  {
    "width": 1000, "height": 21,
    "data": {"values": [{}]},
    "mark": {"type": "rule", "color": "black"},
    "encoding": {
      "x": {"datum": 0, "type": "quantitative", "scale": {"domain": [0, 360], "nice": false, "zero": false},
            "axis": {"orient": "bottom", "values": [30,60,90,120,150,180,210,240,270,300,330], "grid": true, "gridDash": [1,2], "domain": false, "ticks": false, "labels": false, "title": null}},
      "x2": {"datum": 360},
      "y": {"datum": 5, "type": "quantitative", "scale": {"domain": [0, 21], "nice": false, "zero": false},
            "axis": {"values": [5, 15.5], "grid": true, "gridDash": [1,0], "ticks": false, "labels": false, "domain": true,
                     "title": ["Is/RR", "Ax/CC"], "titleLineHeight": 10.5, "titleY": 0.7}}
    }
  },
  {
    "width": 1000, "height": 43,
    "data": {"name": "l1"},
    "mark": {"type": "line", "color": "black", "strokeWidth": 1.5},
    "encoding": {
      "x": {"field": "t", "type": "quantitative", "scale": {"domain": [0, 360], "nice": false, "zero": false},
            "axis": {"orient": "bottom", "values": [30,60,90,120,150,180,210,240,270,300,330], "grid": true, "gridDash": [1,2], "domain": false, "ticks": false, "labels": false, "title": null}},
      "y": {"field": "slp", "type": "quantitative", "scale": {"domain": [-130, 300], "nice": false, "zero": false},
            "axis": {"values": [-130,0,100,200], "labelExpr": "datum.value === -130 ? '' : datum.label",
                     "grid": true, "gridDash": {"condition": {"test": "datum.value === 0", "value": [1,0]}, "value": [1,2]},
                     "gridOpacity": {"condition": {"test": "datum.value === -130", "value": 0}, "value": 1},
                     "ticks": true, "tickSize": 97, "tickColor": {"condition": {"test": "datum.value === -130", "value": "black"}, "value": "transparent"},
                     "labelPadding": -94, "domain": true, "title": "ST Slope", "titleY": 21.7}}
    }
  },
  {
    "width": 1000, "height": 167,
    "data": {"values": [{}]},
    "mark": {"type": "rule", "color": "black"},
    "encoding": {
      "x": {"datum": 0, "type": "quantitative", "scale": {"domain": [0, 360], "nice": false, "zero": false},
            "axis": {"orient": "bottom", "values": [30,60,90,120,150,180,210,240,270,300,330], "grid": true, "gridDash": [1,2], "domain": false, "ticks": false, "labels": false, "title": null}},
      "y": {"datum": 0, "type": "quantitative", "scale": {"domain": [0, 1], "nice": false, "zero": false},
            "axis": {"grid": false, "ticks": false, "labels": false, "domain": true, "title": null}},
      "y2": {"datum": 1}
    }
  },
  {
    "width": 1000, "height": 18,
    "data": {"name": "noise10"},
    "mark": {"type": "rule", "color": "black"},
    "encoding": {
      "x": {"field": "t", "type": "quantitative", "scale": {"domain": [0, 360], "nice": false, "zero": false},
            "axis": {"orient": "bottom", "values": [30,60,90,120,150,180,210,240,270,300,330], "grid": true, "gridDash": [1,2], "domain": false, "ticks": false, "labels": false, "title": null}},
      "y": {"datum": 5, "type": "quantitative", "scale": {"domain": [-3, 15], "nice": false, "zero": false},
            "axis": {"values": [5], "grid": true, "gridDash": [1,0], "ticks": false, "labels": false, "domain": true, "title": "Unread/Noise 10", "titleY": 2.4}},
      "y2": {"datum": -2}
    }
  },
  {
    "width": 1000, "height": 15,
    "data": {"name": "noise11"},
    "mark": {"type": "rule", "color": "black"},
    "encoding": {
      "x": {"field": "t", "type": "quantitative", "scale": {"domain": [0, 360], "nice": false, "zero": false},
            "axis": {"orient": "bottom", "values": [30,60,90,120,150,180,210,240,270,300,330], "grid": true, "gridDash": [1,2], "domain": false, "ticks": false, "labels": false, "title": null}},
      "y": {"datum": 7.5, "type": "quantitative", "scale": {"domain": [0, 15], "nice": false, "zero": false},
            "axis": {"values": [7.5], "grid": true, "gridDash": [1,0], "ticks": false, "labels": false, "domain": true, "title": "Unread/Noise 11", "titleY": -1.3}},
      "y2": {"datum": 0.5}
    }
  },
  {
    "width": 1000, "height": 32,
    "data": {"name": "abn"},
    "mark": {"type": "rule", "color": "black"},
    "encoding": {
      "x": {"field": "t", "type": "quantitative", "scale": {"domain": [0, 360], "nice": false, "zero": false},
            "axis": {"orient": "bottom", "values": [30,60,90,120,150,180,210,240,270,300,330], "grid": true, "gridDash": [1,2], "domain": false, "ticks": false, "labels": false, "title": null}},
      "y": {"datum": 10, "type": "quantitative", "scale": {"domain": [0, 32], "nice": false, "zero": false},
            "axis": {"values": [0, 10], "grid": true, "gridDash": [1,0],
                     "gridOpacity": {"condition": {"test": "datum.value === 0", "value": 0}, "value": 1},
                     "ticks": true, "tickSize": 97, "tickColor": {"condition": {"test": "datum.value === 0", "value": "black"}, "value": "transparent"},
                     "labels": false, "domain": true, "title": "Abnormal Beats", "titleY": 12.7}},
      "y2": {"datum": 7}
    }
  },
  {
    "width": 1000, "height": 25, "data": {"name": "kl"}, "mark": {"type": "line", "color": "black", "strokeWidth": 1},
    "encoding": {
      "x": {"field": "t", "type": "quantitative", "scale": {"domain": [0, 360], "nice": false, "zero": false},
            "axis": {"orient": "bottom", "values": [30,60,90,120,150,180,210,240,270,300,330], "grid": true, "gridDash": [1,2], "domain": false, "ticks": false, "labels": false, "title": null}},
      "y": {"field": "q1", "type": "quantitative", "scale": {"domain": [0, 5], "nice": false, "zero": false},
            "axis": {"values": [0, 2], "grid": true, "gridDash": {"condition": {"test": "datum.value === 0", "value": [1,0]}, "value": [1,2]}, "ticks": false, "labelPadding": 3, "domain": true, "title": "QRS KL1 [std]", "titleY": 14.7}}
    }
  },
  {
    "width": 1000, "height": 25, "data": {"name": "kl"}, "mark": {"type": "line", "color": "black", "strokeWidth": 1},
    "encoding": {
      "x": {"field": "t", "type": "quantitative", "scale": {"domain": [0, 360], "nice": false, "zero": false},
            "axis": {"orient": "bottom", "values": [30,60,90,120,150,180,210,240,270,300,330], "grid": true, "gridDash": [1,2], "domain": false, "ticks": false, "labels": false, "title": null}},
      "y": {"field": "q2", "type": "quantitative", "scale": {"domain": [0, 5], "nice": false, "zero": false},
            "axis": {"values": [0, 2], "grid": true, "gridDash": {"condition": {"test": "datum.value === 0", "value": [1,0]}, "value": [1,2]}, "ticks": false, "labelPadding": 3, "domain": true, "title": "QRS KL2", "titleY": 14.7}}
    }
  },
  {
    "width": 1000, "height": 25, "data": {"name": "kl"}, "mark": {"type": "line", "color": "black", "strokeWidth": 1},
    "encoding": {
      "x": {"field": "t", "type": "quantitative", "scale": {"domain": [0, 360], "nice": false, "zero": false},
            "axis": {"orient": "bottom", "values": [30,60,90,120,150,180,210,240,270,300,330], "grid": true, "gridDash": [1,2], "domain": false, "ticks": false, "labels": false, "title": null}},
      "y": {"field": "q3", "type": "quantitative", "scale": {"domain": [0, 5], "nice": false, "zero": false},
            "axis": {"values": [0, 2], "grid": true, "gridDash": {"condition": {"test": "datum.value === 0", "value": [1,0]}, "value": [1,2]}, "ticks": false, "labelPadding": 3, "domain": true, "title": "QRS KL3", "titleY": 14.7}}
    }
  },
  {
    "width": 1000, "height": 25, "data": {"name": "kl"}, "mark": {"type": "line", "color": "black", "strokeWidth": 1},
    "encoding": {
      "x": {"field": "t", "type": "quantitative", "scale": {"domain": [0, 360], "nice": false, "zero": false},
            "axis": {"orient": "bottom", "values": [30,60,90,120,150,180,210,240,270,300,330], "grid": true, "gridDash": [1,2], "domain": false, "ticks": false, "labels": false, "title": null}},
      "y": {"field": "q4", "type": "quantitative", "scale": {"domain": [0, 5], "nice": false, "zero": false},
            "axis": {"values": [0, 2], "grid": true, "gridDash": {"condition": {"test": "datum.value === 0", "value": [1,0]}, "value": [1,2]}, "ticks": false, "labelPadding": 3, "domain": true, "title": "QRS KL4", "titleY": 14.7}}
    }
  },
  {
    "width": 1000, "height": 25, "data": {"name": "kl"}, "mark": {"type": "line", "color": "black", "strokeWidth": 1},
    "encoding": {
      "x": {"field": "t", "type": "quantitative", "scale": {"domain": [0, 360], "nice": false, "zero": false},
            "axis": {"orient": "bottom", "values": [30,60,90,120,150,180,210,240,270,300,330], "grid": true, "gridDash": [1,2], "domain": false, "ticks": false, "labels": false, "title": null}},
      "y": {"field": "q5", "type": "quantitative", "scale": {"domain": [0, 5], "nice": false, "zero": false},
            "axis": {"values": [0, 2], "grid": true, "gridDash": {"condition": {"test": "datum.value === 0", "value": [1,0]}, "value": [1,2]}, "ticks": false, "labelPadding": 3, "domain": true, "title": "QRS KL5", "titleY": 14.7}}
    }
  },
  {
    "width": 1000, "height": 25, "data": {"name": "kl"}, "mark": {"type": "line", "color": "black", "strokeWidth": 1},
    "encoding": {
      "x": {"field": "t", "type": "quantitative", "scale": {"domain": [0, 360], "nice": false, "zero": false},
            "axis": {"orient": "bottom", "values": [30,60,90,120,150,180,210,240,270,300,330], "grid": true, "gridDash": [1,2], "domain": false, "ticks": false, "labels": false, "title": null}},
      "y": {"field": "qd", "type": "quantitative", "scale": {"domain": [0, 5], "nice": false, "zero": false},
            "axis": {"values": [0, 2], "grid": true, "gridDash": {"condition": {"test": "datum.value === 0", "value": [1,0]}, "value": [1,2]}, "ticks": false, "labelPadding": 3, "domain": true, "title": "QRS Distance", "titleY": 14.7}}
    }
  },
  {
    "width": 1000, "height": 25, "data": {"name": "kl"}, "mark": {"type": "line", "color": "black", "strokeWidth": 1},
    "encoding": {
      "x": {"field": "t", "type": "quantitative", "scale": {"domain": [0, 360], "nice": false, "zero": false},
            "axis": {"orient": "bottom", "values": [30,60,90,120,150,180,210,240,270,300,330], "grid": true, "gridDash": [1,2], "domain": false, "ticks": false, "labels": false, "title": null}},
      "y": {"field": "s1", "type": "quantitative", "scale": {"domain": [0, 5], "nice": false, "zero": false},
            "axis": {"values": [0, 2], "grid": true, "gridDash": {"condition": {"test": "datum.value === 0", "value": [1,0]}, "value": [1,2]}, "ticks": false, "labelPadding": 3, "domain": true, "title": "ST KL1 [std]", "titleY": 14.7}}
    }
  },
  {
    "width": 1000, "height": 25, "data": {"name": "kl"}, "mark": {"type": "line", "color": "black", "strokeWidth": 1},
    "encoding": {
      "x": {"field": "t", "type": "quantitative", "scale": {"domain": [0, 360], "nice": false, "zero": false},
            "axis": {"orient": "bottom", "values": [30,60,90,120,150,180,210,240,270,300,330], "grid": true, "gridDash": [1,2], "domain": false, "ticks": false, "labels": false, "title": null}},
      "y": {"field": "s2", "type": "quantitative", "scale": {"domain": [0, 5], "nice": false, "zero": false},
            "axis": {"values": [0, 2], "grid": true, "gridDash": {"condition": {"test": "datum.value === 0", "value": [1,0]}, "value": [1,2]}, "ticks": false, "labelPadding": 3, "domain": true, "title": "ST KL2", "titleY": 14.7}}
    }
  },
  {
    "width": 1000, "height": 25, "data": {"name": "kl"}, "mark": {"type": "line", "color": "black", "strokeWidth": 1},
    "encoding": {
      "x": {"field": "t", "type": "quantitative", "scale": {"domain": [0, 360], "nice": false, "zero": false},
            "axis": {"orient": "bottom", "values": [30,60,90,120,150,180,210,240,270,300,330], "grid": true, "gridDash": [1,2], "domain": false, "ticks": false, "labels": false, "title": null}},
      "y": {"field": "s3", "type": "quantitative", "scale": {"domain": [0, 5], "nice": false, "zero": false},
            "axis": {"values": [0, 2], "grid": true, "gridDash": {"condition": {"test": "datum.value === 0", "value": [1,0]}, "value": [1,2]}, "ticks": false, "labelPadding": 3, "domain": true, "title": "ST KL3", "titleY": 14.7}}
    }
  },
  {
    "width": 1000, "height": 25, "data": {"name": "kl"}, "mark": {"type": "line", "color": "black", "strokeWidth": 1},
    "encoding": {
      "x": {"field": "t", "type": "quantitative", "scale": {"domain": [0, 360], "nice": false, "zero": false},
            "axis": {"orient": "bottom", "values": [30,60,90,120,150,180,210,240,270,300,330], "grid": true, "gridDash": [1,2], "domain": false, "ticks": false, "labels": false, "title": null}},
      "y": {"field": "s4", "type": "quantitative", "scale": {"domain": [0, 5], "nice": false, "zero": false},
            "axis": {"values": [0, 2], "grid": true, "gridDash": {"condition": {"test": "datum.value === 0", "value": [1,0]}, "value": [1,2]}, "ticks": false, "labelPadding": 3, "domain": true, "title": "ST KL4", "titleY": 14.7}}
    }
  },
  {
    "width": 1000, "height": 25, "data": {"name": "kl"}, "mark": {"type": "line", "color": "black", "strokeWidth": 1},
    "encoding": {
      "x": {"field": "t", "type": "quantitative", "scale": {"domain": [0, 360], "nice": false, "zero": false},
            "axis": {"orient": "bottom", "values": [30,60,90,120,150,180,210,240,270,300,330], "grid": true, "gridDash": [1,2], "domain": false, "ticks": false, "labels": false, "title": null}},
      "y": {"field": "s5", "type": "quantitative", "scale": {"domain": [0, 5], "nice": false, "zero": false},
            "axis": {"values": [0, 2], "grid": true, "gridDash": {"condition": {"test": "datum.value === 0", "value": [1,0]}, "value": [1,2]}, "ticks": false, "labelPadding": 3, "domain": true, "title": "ST KL5", "titleY": 14.7}}
    }
  },
  {
    "width": 1000, "height": 30, "data": {"name": "kl"}, "mark": {"type": "line", "color": "black", "strokeWidth": 1},
    "encoding": {
      "x": {"field": "t", "type": "quantitative", "scale": {"domain": [0, 360], "nice": false, "zero": false},
            "axis": {"orient": "bottom", "values": [0,30,60,90,120,150,180,210,240,270,300,330], "grid": true, "gridDash": [1,2], "domain": false,
                     "ticks": true, "tickSize": 10, "tickDash": [1,2], "tickColor": "black",
                     "labels": true, "labelExpr": "datum.value < 60 ? datum.value + ':00' : floor(datum.value / 60) + ':' + (datum.value % 60 < 10 ? '0' : '') + (datum.value % 60) + ':00'",
                     "labelAlign": {"condition": {"test": "datum.value === 30", "value": "center"}, "value": "left"},
                     "labelBaseline": "top", "labelPadding": 5,
                     "title": ["Time", "[hh:mm:ss]"], "titleAngle": 0, "titleAlign": "left", "titleBaseline": "top", "titleX": -96, "titleY": 4.7, "titleLineHeight": 11}},
      "y": {"field": "sd", "type": "quantitative", "scale": {"domain": [-1, 5], "nice": false, "zero": false},
            "axis": {"values": [-1, 0, 2], "labelExpr": "datum.value === -1 ? '' : datum.label",
                     "grid": true, "gridDash": {"condition": {"test": "datum.value === 0", "value": [1,0]}, "value": [1,2]},
                     "gridOpacity": {"condition": {"test": "datum.value === -1", "value": 0}, "value": 1},
                     "ticks": true, "tickSize": 97, "tickColor": {"condition": {"test": "datum.value === -1", "value": "black"}, "value": "transparent"},
                     "labelPadding": -94, "domain": true, "title": "ST Distance", "titleY": 14.7}}
    }
  }
]
}
